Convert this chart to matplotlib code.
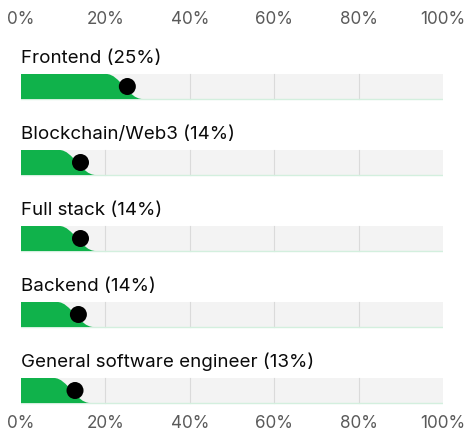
import numpy as np
import matplotlib.pyplot as plt
from matplotlib.path import Path
from matplotlib.patches import PathPatch, Rectangle

# data
roles = ["Frontend", "Blockchain/Web3", "Full stack", "Backend",
         "General software engineer"]
shares = [25.2, 14.1, 14.1, 13.6, 12.8]
share_labels = [25, 14, 14, 14, 13]
ticks = [0, 20, 40, 60, 80, 100]

W, H = 467, 434
green = "#10b24b"

plt.rcParams['font.family'] = ['Inter', 'DejaVu Sans']

fig = plt.figure(figsize=(W / 100, H / 100), dpi=100)
# axes cover x from 0% to 100% in px, y in pixel rows (top down)
ax = fig.add_axes([21 / W, 0, (443 - 21) / W, 1])
ax.set_xlim(0, 100)
ax.set_ylim(H, 0)
ax.axis("off")

row0, step, bar_h = 74, 76, 25

for i, (role, v, lab) in enumerate(zip(roles, shares, share_labels)):
    top = row0 + step * i
    bot = top + bar_h
    # grey track
    ax.add_patch(Rectangle((0, top), 100, bar_h, facecolor="#f3f3f3",
                           edgecolor="none", zorder=1))
    for t in ticks[1:-1]:
        ax.plot([t, t], [top, bot], color="#dadada", lw=0.8, zorder=2)
    ax.plot([0, 100], [bot, bot], color="#d3efde", lw=1.0, zorder=2)
    # green bar with slanted soft end
    verts = [(0, bot), (0, top), (v - 5.0, top),
             (v - 1.8, top), (v + 0.2, bot), (v + 3.6, bot),
             (0, bot)]
    codes = [Path.MOVETO, Path.LINETO, Path.LINETO,
             Path.CURVE4, Path.CURVE4, Path.CURVE4, Path.CLOSEPOLY]
    ax.add_patch(PathPatch(Path(verts, codes), facecolor=green,
                           edgecolor="none", zorder=3))
    ax.scatter([v], [top + bar_h / 2], s=150, color="black", zorder=4,
               edgecolors="none")
    ax.text(0, top - 7, "%s (%d%%)" % (role, lab), fontsize=13.5,
            color="#0a0a0a", ha="left", va="bottom")

for t in ticks:
    ax.text(t, 19, "%d%%" % t, fontsize=12.3, color="#5a5a5a",
            ha="center", va="center")
    ax.text(t, 424, "%d%%" % t, fontsize=12.3, color="#5a5a5a",
            ha="center", va="center")

fig.savefig("out.png", dpi=100, facecolor="white")
